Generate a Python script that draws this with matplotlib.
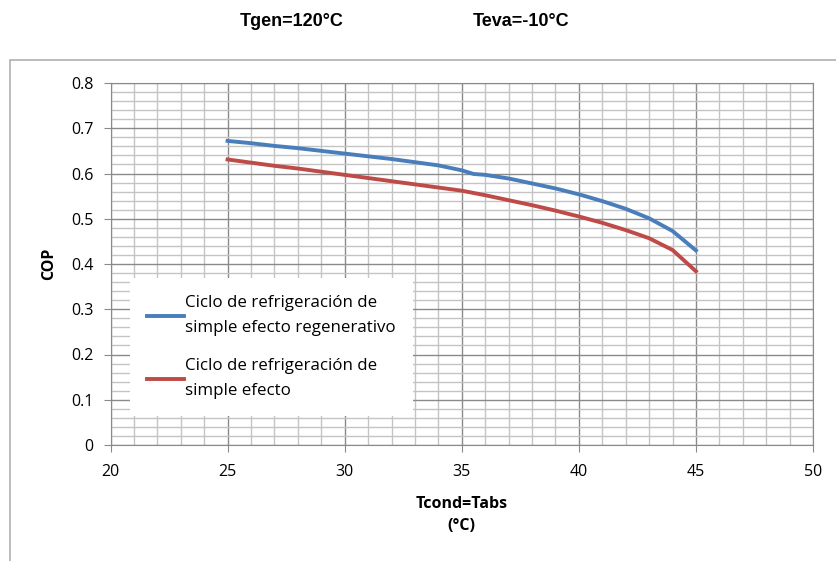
import matplotlib
matplotlib.use("Agg")
from matplotlib import pyplot as plt
from matplotlib.patches import Rectangle
from matplotlib.ticker import MultipleLocator

# condenser / absorber temperature (degC)
t_cond = [25, 26, 27, 28, 29, 30, 31, 32, 33, 34, 35, 35.5, 36, 37, 38, 39, 40, 41, 42, 43, 44, 45]

# COP, regenerative single effect cycle
cop_regen = [0.672, 0.667, 0.661, 0.656, 0.650, 0.644, 0.638, 0.632, 0.625, 0.618, 0.607, 0.599,
             0.597, 0.589, 0.578, 0.567, 0.554, 0.539, 0.522, 0.501, 0.473, 0.430]
# COP, single effect cycle
cop_simple = [0.631, 0.624, 0.617, 0.611, 0.604, 0.597, 0.590, 0.583, 0.576, 0.569, 0.562, 0.557,
              0.552, 0.541, 0.530, 0.518, 0.505, 0.491, 0.475, 0.457, 0.431, 0.384]

x_ticks = [20, 25, 30, 35, 40, 45, 50]
y_ticks = [0, 0.1, 0.2, 0.3, 0.4, 0.5, 0.6, 0.7, 0.8]
y_ticklabels = ["0", "0.1", "0.2", "0.3", "0.4", "0.5", "0.6", "0.7", "0.8"]

labels = ["Ciclo de refrigeración de\nsimple efecto regenerativo",
          "Ciclo de refrigeración de\nsimple efecto"]
colors = ["#4a7ebb", "#be4b48"]

FONT = "Open Sans"
W, H = 836, 561
fig = plt.figure(figsize=(W / 100, H / 100), dpi=100)

# chart area border like the spreadsheet frame
fig.patches.append(Rectangle((10 / W, -0.1), 1.0, 1 - 60 / H + 0.1, transform=fig.transFigure,
                             fill=False, edgecolor="#b0b0b0", linewidth=1.2))

ax = fig.add_axes([110.5 / W, 1 - 445 / H, (813 - 110.5) / W, (445 - 83) / H])

ax.set_xlim(20, 50)
ax.set_ylim(0, 0.8)
ax.set_xticks(x_ticks)
ax.set_xticklabels([str(v) for v in x_ticks], family=FONT, fontsize=11.5)
ax.set_yticks(y_ticks)
ax.set_yticklabels(y_ticklabels, family=FONT, fontsize=11.5)
ax.xaxis.set_minor_locator(MultipleLocator(1))
ax.yaxis.set_minor_locator(MultipleLocator(0.02))
ax.grid(which="minor", color="#c4c4c4", linewidth=1.0)
ax.grid(which="major", color="#8a8a8a", linewidth=1.0)
ax.set_axisbelow(True)
ax.tick_params(which="major", length=5, color="#8a8a8a", pad=9)
ax.tick_params(axis="y", pad=7)
ax.tick_params(which="minor", length=0)
for s in ax.spines.values():
    s.set_color("#8a8a8a")

ax.plot(t_cond, cop_regen, color=colors[0], linewidth=2.8, label=labels[0])
ax.plot(t_cond, cop_simple, color=colors[1], linewidth=2.8, label=labels[1])

leg = ax.legend(loc="upper left", bbox_to_anchor=(130 / W, 1 - 278 / H), bbox_transform=fig.transFigure,
                frameon=True, fancybox=False, handlelength=2.2, labelspacing=1.3,
                borderpad=1.0, borderaxespad=0, handletextpad=0.05, prop={"family": FONT, "size": 12.2})
leg.get_frame().set_edgecolor("none")
leg.get_frame().set_facecolor("white")
leg.get_frame().set_alpha(1)
for t in leg.get_texts():
    t.set_linespacing(1.75)

ax.set_xlabel("Tcond=Tabs\n(°C)", fontsize=11.5, fontweight="bold", family=FONT, labelpad=11,
              linespacing=1.5)
ax.set_ylabel("COP", fontsize=11.5, fontweight="bold", family=FONT, labelpad=10)

fig.text(292 / W, 1 - 22 / H, "Tgen=120°C", ha="center", va="center", fontsize=13,
         fontweight="bold", family="Liberation Sans")
fig.text(521 / W, 1 - 22 / H, "Teva=-10°C", ha="center", va="center", fontsize=13,
         fontweight="bold", family="Liberation Sans")

fig.savefig("out.png", dpi=100)
